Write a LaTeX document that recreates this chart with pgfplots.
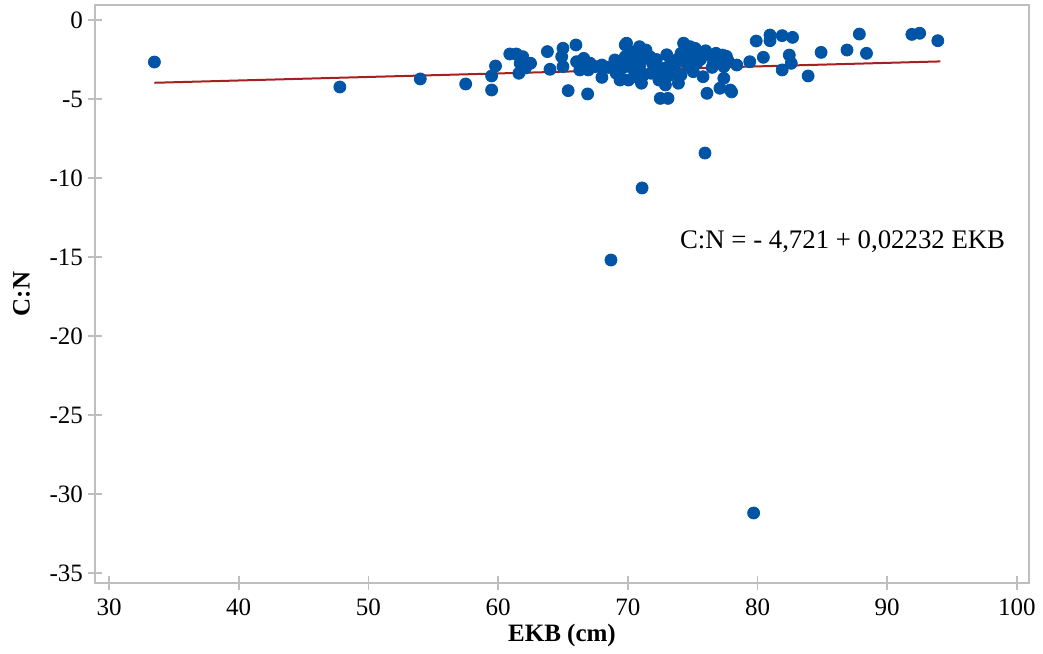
\documentclass[border=0pt]{standalone}
\usepackage{fontspec}
\setmainfont{Liberation Serif}
\usepackage{pgfplots}
\pgfplotsset{compat=1.18}
\definecolor{ptblue}{RGB}{0,84,166}
\definecolor{lnred}{RGB}{165,32,32}
\definecolor{axgray}{RGB}{190,190,190}
\begin{document}
\begin{tikzpicture}
\begin{axis}[
  scale only axis,
  width=467pt, height=289pt,
  xmin=28.92, xmax=100.93,
  ymin=-35.63, ymax=0.95,
  xtick={30,40,50,60,70,80,90,100},
  ytick={-35,-30,-25,-20,-15,-10,-5,0},
  axis line style={axgray, line width=0.8pt},
  tick style={axgray, line width=0.8pt},
  tick align=center,
  major tick length=7pt,
  xtick pos=bottom, ytick pos=left,
  /pgf/number format/assume math mode=true,
  tick label style={font=\fontsize{12.5}{14}\selectfont},
  xticklabel style={yshift=-1pt},
  yticklabel style={xshift=1pt},
  xlabel={\textbf{EKB (cm)}},
  ylabel={\textbf{C:N}},
  label style={font=\fontsize{12.5}{14}\selectfont},
  xlabel style={yshift=3pt},
  ylabel style={yshift=3pt},
  clip=false,
]
\addplot[only marks, mark=*, mark size=3pt, color=ptblue, mark options={fill=ptblue, draw=ptblue}] coordinates {
(33.5,-2.66) (47.8,-4.24) (54.0,-3.73) (57.5,-4.05) (59.5,-3.54) (59.5,-4.43)
(59.8,-2.91) (60.9,-2.15) (61.4,-2.15) (61.9,-2.32) (61.7,-2.74) (62.5,-2.74)
(61.6,-3.37) (62.1,-3.04) (63.8,-2.0) (64.0,-3.12) (65.0,-1.79) (64.9,-2.32)
(65.0,-2.95) (66.0,-1.58) (65.4,-4.47) (66.9,-4.68) (66.05,-2.64) (66.6,-2.43)
(66.6,-2.85) (66.3,-3.16) (66.95,-3.16) (67.1,-2.74) (67.5,-2.95) (68.0,-2.85)
(68.0,-3.63) (69.0,-2.53) (69.1,-3.37) (69.5,-3.69) (69.8,-1.58) (69.8,-2.32)
(69.8,-2.95) (69.9,-1.47) (69.4,-3.8) (70.05,-3.8) (70.3,-2.74) (70.9,-1.69)
(70.7,-2.32) (70.9,-2.95) (71.05,-4.0) (71.2,-3.48) (71.7,-2.32) (71.9,-2.74)
(71.8,-3.37) (72.5,-4.96) (73.1,-4.96) (72.9,-4.11) (72.8,-3.06) (73.3,-2.74)
(73.4,-3.37) (73.9,-4.0) (74.1,-3.48) (74.3,-1.47) (74.5,-1.9) (74.1,-2.11)
(74.8,-1.69) (75.05,-2.32) (74.4,-2.64) (75.05,-3.27) (75.3,-2.74) (75.4,-2.0)
(75.8,-3.59) (76.1,-4.64) (76.3,-2.22) (76.6,-2.74) (76.8,-2.11) (77.3,-2.22)
(77.4,-2.95) (77.4,-3.69) (77.1,-4.32) (77.9,-4.43) (77.7,-2.53) (78.4,-2.85)
(79.4,-2.64) (79.9,-1.33) (80.45,-2.36) (80.96,-0.95) (80.96,-1.31) (81.9,-0.99)
(82.7,-1.1) (82.45,-2.22) (82.6,-2.74) (81.9,-3.16) (83.9,-3.54) (84.9,-2.05)
(86.9,-1.9) (87.85,-0.89) (88.4,-2.11) (91.9,-0.91) (92.5,-0.84) (93.9,-1.31)
(70.2,-2.0) (70.5,-3.2) (71.4,-1.9) (72.2,-2.5) (72.6,-3.3) (73.0,-2.2)
(73.6,-2.9) (74.7,-2.9) (75.6,-2.5) (76.0,-1.95) (76.9,-2.6) (77.6,-2.3)
(68.5,-3.0) (69.3,-2.8) (72.4,-3.8) (73.2,-3.5) (74.9,-2.1) (76.5,-3.0)
(78.0,-4.55) (71.0,-2.6) (72.0,-2.9) (73.8,-2.5) (75.2,-1.8) (70.6,-3.6)
(68.7,-15.19) (71.1,-10.63) (75.95,-8.42) (79.7,-31.2)
};
\addplot[color=lnred, line width=1pt] coordinates {(33.5,-3.973) (94.1,-2.621)};
\node[anchor=west, font=\fontsize{13.4}{15}\selectfont, inner sep=0pt] at (axis cs:74.0,-14.0) {C:N = - 4,721 + 0,02232 EKB};
\end{axis}
\pgfresetboundingbox
\path (current axis.south west) ++(-47.5pt,-35pt) coordinate (bbsw);
\path (current axis.north east) ++(7pt,2.5pt) coordinate (bbne);
\path[use as bounding box] (bbsw) rectangle (bbne);
\end{tikzpicture}
\end{document}
